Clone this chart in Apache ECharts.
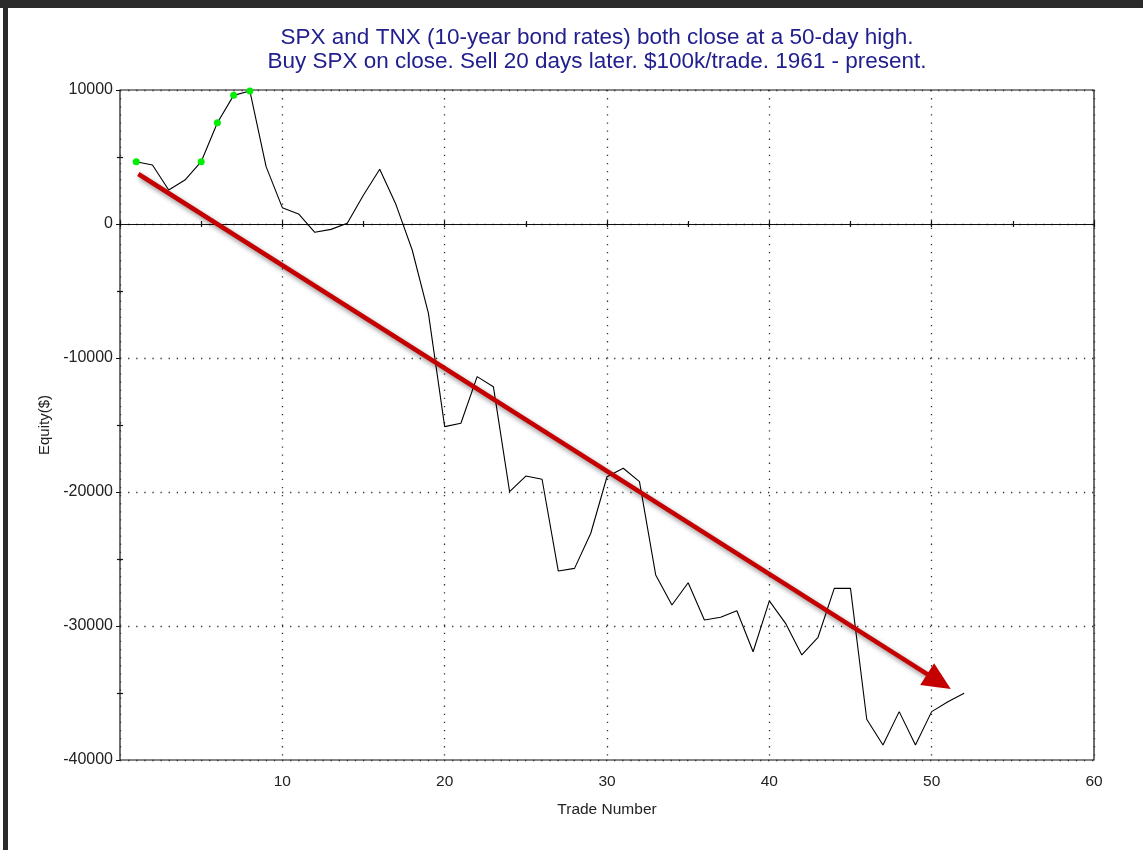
<!DOCTYPE html>
<html>
<head>
<meta charset="utf-8">
<script src="https://cdn.jsdelivr.net/npm/echarts@6/dist/echarts.min.js"></script>
<style>
html,body{margin:0;padding:0;background:#fff;}
#frameTop{position:absolute;left:0;top:0;width:1143px;height:8px;background:#2b2b2b;}
#frameLeft{position:absolute;left:3px;top:0;width:5px;height:850px;background:#2b2b2b;}
#chart{position:absolute;left:0;top:0;width:1143px;height:850px;}
</style>
</head>
<body>
<div id="chart"></div>
<div id="frameTop"></div>
<div id="frameLeft"></div>
<script>
// Equity curve values, trade 1..52
var equity = [
  4650, 4400, 2540, 3280, 4650, 7560, 9600, 9930, 4280, 1220,
  750, -620, -400, 50, 2160, 4080, 1450, -1940, -6670, -15120,
  -14870, -11390, -12140, -19970, -18810, -19050, -25900, -25700, -23080, -18860,
  -18230, -19230, -26190, -28430, -26770, -29550, -29350, -28860, -31920, -28130,
  -29800, -32160, -30840, -27190, -27190, -36960, -38880, -36390, -38880, -36390,
  -35650, -35020
];
// trades that marked a new equity high (green dots)
var newHighTrades = [1, 5, 6, 7, 8];
// arrow annotation endpoints in data coordinates [trade, equity]
var arrowStart = [1.13, 3730];
var arrowEnd = [50.45, -34150];
var xTicks = [0, 60, 10];
var yTicks = [-40000, 10000, 10000];

var titleLines = ['SPX and TNX (10-year bond rates) both close at a 50-day high.',
                  'Buy SPX on close. Sell 20 days later. $100k/trade. 1961 - present.'];

var lineData = equity.map(function (v, i) {
  var n = i + 1;
  if (newHighTrades.indexOf(n) >= 0) {
    return { value: [n, v], symbol: 'circle', symbolSize: 7, itemStyle: { color: '#00ee00' } };
  }
  return { value: [n, v], symbol: 'none' };
});

var lblFont = 'Liberation Sans, Arial';
var dotted = { color: '#333', width: 1.3, type: [1.3, 6.8] };
var chart = echarts.init(document.getElementById('chart'), null, { renderer: 'canvas' });
chart.setOption({
  animation: false,
  backgroundColor: '#fff',
  title: {
    text: titleLines.join('\n'),
    left: 597,
    textAlign: 'center',
    top: 26,
    padding: 0,
    textStyle: { color: '#22208e', fontFamily: 'Liberation Sans, Arial', fontSize: 22.5, fontWeight: 'normal', lineHeight: 24 }
  },
  grid: { left: 120, right: 49, top: 90, bottom: 90, show: true, borderColor: '#111', borderWidth: 1.2, backgroundColor: 'transparent' },
  xAxis: [
    {
      type: 'value', min: xTicks[0], max: xTicks[1], interval: xTicks[2], position: 'bottom',
      axisLine: { show: false, onZero: false }, axisTick: { show: false },
      axisLabel: { color: '#222', fontFamily: lblFont, fontSize: 15.5, margin: 14,
        formatter: function (v) { return v === 0 ? '' : String(v); } },
      splitLine: { show: true, lineStyle: dotted },
      name: 'Trade Number', nameLocation: 'middle', nameGap: 42,
      nameTextStyle: { color: '#222', fontFamily: lblFont, fontSize: 15.5 }
    },
    {
      type: 'value', min: xTicks[0], max: xTicks[1], interval: 5, position: 'top',
      axisLine: { show: true, onZero: true, lineStyle: { color: '#111', width: 1.2 } },
      axisTick: { show: true, inside: false, length: 3, lineStyle: { color: '#111', width: 1.2 } },
      axisLabel: { show: false }, splitLine: { show: false }
    },
    {
      type: 'value', min: xTicks[0], max: xTicks[1], interval: 5, position: 'top',
      axisLine: { show: false, onZero: true },
      axisTick: { show: true, inside: true, length: 3, lineStyle: { color: '#111', width: 1.2 } },
      axisLabel: { show: false }, splitLine: { show: false }
    }
  ],
  yAxis: [
    {
      type: 'value', min: yTicks[0], max: yTicks[1], interval: yTicks[2], position: 'left',
      axisLine: { show: false }, axisTick: { show: true, length: 4, lineStyle: { color: '#111' } },
      minorTick: { show: true, splitNumber: 2, length: 3, lineStyle: { color: '#111', width: 1.2 } },
      axisLabel: { color: '#222', fontFamily: lblFont, fontSize: 16, margin: 7,
        formatter: function (v) { return String(v); } },
      splitLine: { show: true, lineStyle: dotted },
      name: 'Equity($)', nameLocation: 'middle', nameGap: 67, nameRotate: 90,
      nameTextStyle: { color: '#222', fontFamily: lblFont, fontSize: 15 }
    },
    {
      type: 'value', min: yTicks[0], max: yTicks[1], interval: yTicks[2], position: 'left',
      axisLine: { show: false }, axisTick: { show: false, inside: true },
      minorTick: { show: true, splitNumber: 2, length: 3, lineStyle: { color: '#111', width: 1.2 } },
      axisLabel: { show: false }, splitLine: { show: false }
    }
  ],
  series: [
    {
      type: 'line', xAxisIndex: 0, yAxisIndex: 0, data: lineData,
      showSymbol: true, lineStyle: { color: '#000', width: 1.1 }, itemStyle: { color: '#000' },
      emphasis: { disabled: true }, silent: true, z: 3
    },
    {
      type: 'line', xAxisIndex: 0, yAxisIndex: 0, data: [], silent: true, z: 5,
      markLine: {
        silent: true, animation: false,
        symbol: ['none', 'triangle'], symbolSize: [26, 28],
        label: { show: false },
        itemStyle: { color: '#c40000' },
        lineStyle: { color: '#c40000', width: 4.5, type: 'solid', opacity: 1,
          shadowColor: 'rgba(0,0,0,0.45)', shadowBlur: 5, shadowOffsetX: 2, shadowOffsetY: 3 },
        emphasis: { disabled: true },
        data: [[{ coord: arrowStart }, { coord: arrowEnd }]]
      }
    }
  ]
});
</script>
</body>
</html>
